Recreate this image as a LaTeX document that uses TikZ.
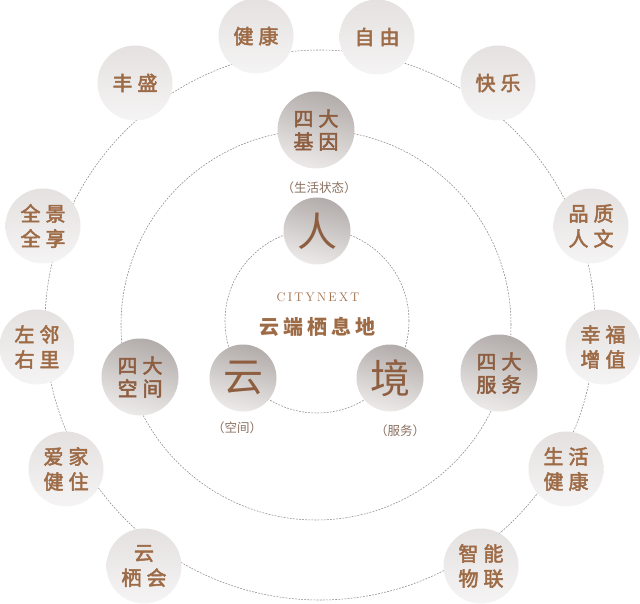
\documentclass[tikz,border=0pt]{standalone}
\usepackage{fontspec}
\newfontfamily\cjk{Noto Sans CJK SC}
\newfontfamily\cjkm[FakeBold=2.5]{Noto Sans CJK SC}
\newfontfamily\lmr{Latin Modern Roman}
\definecolor{ringgray}{HTML}{8E8988}
\definecolor{txtout}{HTML}{9E6B47}
\definecolor{txtmid}{HTML}{8E5E40}
\definecolor{lbl}{HTML}{8A7060}
\definecolor{outtop}{HTML}{E4E1E0}
\definecolor{outbot}{HTML}{F5F4F4}
\definecolor{midtop}{HTML}{B2ACAA}
\definecolor{midbot}{HTML}{ECEAE9}
\newcommand\gp{\hspace{5pt}}
\begin{document}
\begin{tikzpicture}[x=1pt,y=-1pt,
  ring/.style={draw=ringgray, line width=0.55pt, dash pattern=on 1.8pt off 1.3pt},
  outerball/.style={circle, minimum size=75pt, inner sep=0pt, top color=outtop, bottom color=outbot,
    text=txtout, font=\cjkm\fontsize{20}{25}\selectfont, align=center},
  midball/.style={circle, minimum size=77pt, inner sep=0pt, top color=midtop, bottom color=midbot,
    shading angle=-15, text=txtmid, font=\cjkm\fontsize{20}{23}\selectfont, align=center},
  coreball/.style={circle, minimum size=67pt, inner sep=0pt, top color=midtop, bottom color=midbot,
    shading angle=-15, text=txtmid, font=\cjk\fontsize{40}{40}\selectfont},
  sublabel/.style={text=lbl, font=\cjk\fontsize{12.5}{13}\selectfont, inner sep=0pt}
]
\useasboundingbox (0,0) rectangle (640,604);
\fill[white] (0,0) rectangle (640,604);
% ring centres
\coordinate (cout) at (320,325);
\coordinate (cmid) at (316,325);
\coordinate (cin) at (317,321);
\draw[ring] (cout) circle[radius=275pt];
\draw[ring] (cmid) circle[radius=195pt];
\draw[ring] (cin) circle[radius=92pt];
% outer ring
\node[outerball] (jiankang) at (256,36) {健\gp 康};
\node[outerball] (ziyou) at (377,37) {自\gp 由};
\node[outerball] (kuaile) at (498,83) {快\gp 乐};
\node[outerball] (fengsheng) at (135,83) {丰\gp 盛};
\node[outerball] (quanjing) at (43,226) {全\gp 景\\全\gp 享};
\node[outerball] (pinzhi) at (591,226) {品\gp 质\\人\gp 文};
\node[outerball] (zuolin) at (37,347) {左\gp 邻\\右\gp 里};
\node[outerball] (xingfu) at (603,347) {幸\gp 福\\增\gp 值};
\node[outerball] (aijia) at (66,469) {爱\gp 家\\健\gp 住};
\node[outerball] (shenghuo) at (566,469) {生\gp 活\\健\gp 康};
\node[outerball] (yunqihui) at (144,566) {云\\栖\gp 会};
\node[outerball] (zhineng) at (481,566) {智\gp 能\\物\gp 联};
% middle ring
\node[midball] (jiyin) at (316,130) {四\gp 大\\基\gp 因};
\node[midball] (kongjian) at (140,377) {四\gp 大\\空\gp 间};
\node[midball] (fuwu) at (499,373) {四\gp 大\\服\gp 务};
% core
\node[coreball] (ren) at (317,231) {人};
\node[coreball] (yun) at (243,378) {云};
\node[coreball] (jing) at (390,378) {境};
% labels
\node[sublabel] (lren) at (319,188) {（生活状态）};
\node[sublabel] (lyun) at (237,428) {（空间）};
\node[sublabel] (ljing) at (400,431) {（服务）};
\node[text=txtout, font=\lmr\addfontfeature{LetterSpace=18}\fontsize{12.5}{13}\selectfont, inner sep=0pt] (citynext) at (318,297) {CITYNEXT};
\node[text=txtout, font=\cjk\bfseries\fontsize{20}{22}\selectfont, inner sep=0pt] (title) at (317,327) {云\hspace{4pt}端\hspace{4pt}栖\hspace{4pt}息\hspace{4pt}地};
\end{tikzpicture}
\end{document}
